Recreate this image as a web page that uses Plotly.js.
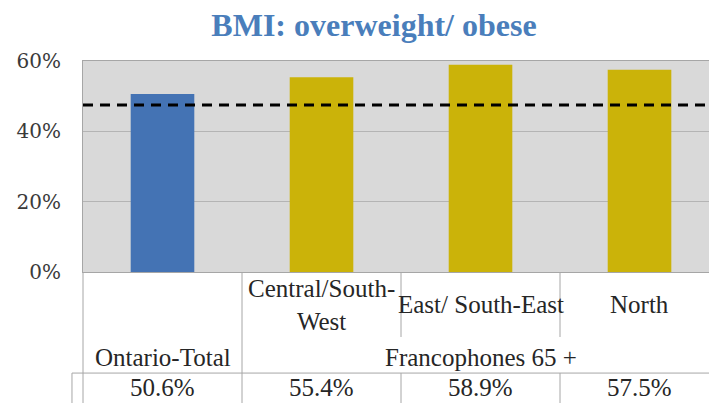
<!DOCTYPE html>
<html>
<head>
<meta charset="utf-8">
<script src="https://cdn.plot.ly/plotly-3.0.1.min.js"></script>
<style>html,body{margin:0;padding:0;background:#fff;}#chart{width:709px;height:403px;}</style>
</head>
<body>
<div id="chart"></div>
<script>
// ---- data ----
var categories = ["Ontario-Total", "Central/South-West", "East/ South-East", "North"];
var categoryLabels = ["", "Central/South-<br>West", "East/ South-East", "North"];
var values = [50.6, 55.4, 58.9, 57.5];
var groups = ["Ontario-Total", "Francophones 65 +", "Francophones 65 +", "Francophones 65 +"];
var referenceLine = 47.5;
var yTicks = [0, 20, 40, 60];
var titleText = "BMI: overweight/ obese";

// ---- styles ----
var serif = "Liberation Serif";
var blue = "#4473b4", gold = "#cbb309", lineGray = "#a6a6a6", textColor = "#262626";
var tableFont = {family: serif, size: 25, color: textColor};

var idx = categories.map(function (c, i) { return i; });
var colors = groups.map(function (g) { return g === groups[0] ? blue : gold; });

var bars = {
  type: "bar", x: idx, y: values, width: 0.4,
  marker: {color: colors, line: {width: 0}},
  hoverinfo: "skip", showlegend: false
};

// paper coordinates for the table area below the plot
var yLabel = -0.156, yGroup = -0.403, yValue = -0.621, yBreakTop = -0.308, yRow = -0.479, yBottom = -0.63;

var shapes = [];
shapes.push({type: "line", xref: "paper", yref: "y", x0: 0, x1: 1, y0: referenceLine, y1: referenceLine,
  line: {color: "#000", width: 3, dash: "10px,7px"}, layer: "above"});
shapes.push({type: "line", xref: "paper", yref: "paper", x0: 0, x1: 0, y0: 0, y1: yBottom, line: {color: lineGray, width: 1}});
for (var i = 0; i < categories.length - 1; i++) {
  var bx = i + 0.5;
  if (groups[i] !== groups[i + 1]) {
    shapes.push({type: "line", xref: "x", yref: "paper", x0: bx, x1: bx, y0: 0, y1: yBottom, line: {color: lineGray, width: 1}});
  } else {
    shapes.push({type: "line", xref: "x", yref: "paper", x0: bx, x1: bx, y0: 0, y1: yBreakTop, line: {color: lineGray, width: 1}});
    shapes.push({type: "line", xref: "x", yref: "paper", x0: bx, x1: bx, y0: yRow, y1: yBottom, line: {color: lineGray, width: 1}});
  }
}
shapes.push({type: "line", xref: "paper", yref: "paper", x0: -0.0176, x1: 1, y0: yRow, y1: yRow, line: {color: lineGray, width: 1}});
shapes.push({type: "line", xref: "paper", yref: "paper", x0: -0.0176, x1: -0.0176, y0: yRow, y1: yBottom, line: {color: lineGray, width: 1}});

var annotations = [];
categoryLabels.forEach(function (lab, i) {
  if (lab) annotations.push({xref: "x", yref: "paper", x: i, y: yLabel, text: lab, showarrow: false,
    xanchor: "center", yanchor: "middle", font: tableFont});
});
var seen = {};
groups.forEach(function (g, i) {
  if (seen[g]) return;
  var members = idx.filter(function (j) { return groups[j] === g; });
  seen[g] = true;
  var cx = members.length > 1 ? (members[0] + members[members.length - 1]) / 2 : members[0];
  annotations.push({xref: "x", yref: "paper", x: cx, y: yGroup, text: g, showarrow: false,
    xanchor: "center", yanchor: "middle", font: tableFont});
});
values.forEach(function (v, i) {
  annotations.push({xref: "x", yref: "paper", x: i, y: yValue, text: v.toFixed(1) + "%", showarrow: false,
    xanchor: "center", yanchor: "bottom", font: tableFont});
});

var layout = {
  width: 709, height: 403,
  font: {family: serif, color: textColor},
  margin: {l: 83, r: 0, t: 61, b: 131, pad: 0},
  paper_bgcolor: "#ffffff", plot_bgcolor: "#d9d9d9",
  title: {text: titleText, x: 374 / 709, xref: "container", xanchor: "center",
    y: 1 - 25 / 403, yref: "container", yanchor: "middle",
    font: {family: serif, size: 32, color: "#4a7ebb", weight: "bold"}},
  xaxis: {range: [-0.5, 3.437], showticklabels: false, showgrid: false, zeroline: false,
    showline: true, linecolor: lineGray, linewidth: 1, mirror: true, fixedrange: true, ticks: ""},
  yaxis: {range: [0, 60], tickvals: yTicks, ticktext: yTicks.map(function (t) { return t + "%"; }),
    showgrid: true, gridcolor: "#b4b4b4", gridwidth: 1, zeroline: false,
    showline: true, linecolor: lineGray, linewidth: 1, mirror: true, ticks: "",
    ticklabelstandoff: 17,
    tickfont: {family: "DejaVu Serif", size: 20, color: "#3a3a3a"}, fixedrange: true},
  shapes: shapes,
  annotations: annotations
};

Plotly.newPlot("chart", [bars], layout, {displayModeBar: false, staticPlot: true});
</script>
</body>
</html>
